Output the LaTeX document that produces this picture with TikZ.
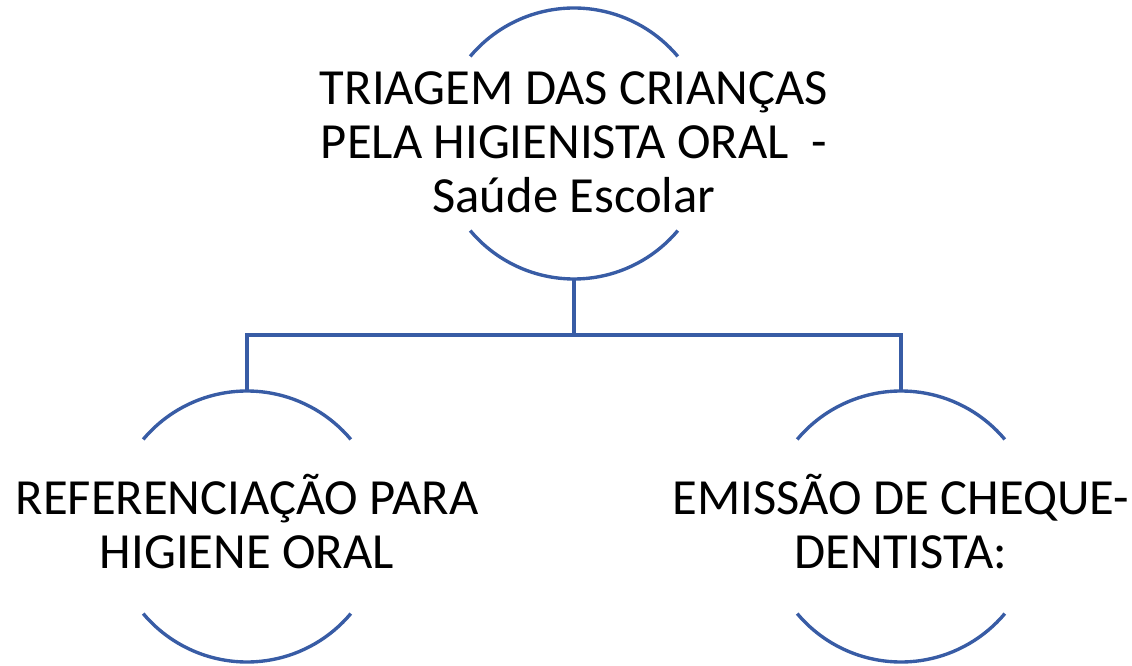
\documentclass[tikz,border=0pt]{standalone}
\usepackage{fontspec}
\setmainfont{Carlito}
\usetikzlibrary{positioning}
\definecolor{lineblue}{RGB}{56,92,165}

\begin{document}
\begin{tikzpicture}[
		bubble/.style={circle, minimum size=6.775cm, inner sep=0pt, outer sep=0pt, draw=none},
		words/.style={align=center, inner sep=0pt, font=\fontsize{36}{38.4}\selectfont},
		rim/.style={draw=lineblue, line width=2.4pt},
	]
		\useasboundingbox (0,0) rectangle (28.3,16.625);
		% The three circles (only their top and bottom parts are drawn)
		\node[bubble] (T) at (14.35,13.0375) {};
		\node[bubble] (L) at (6.175,3.4625) {};
		\node[bubble] (R) at (22.525,3.4625) {};
		\foreach \c in {T,L,R}{
			\draw[rim] (\c.140) arc (140:40:3.3875);
			\draw[rim] (\c.220) arc (220:320:3.3875);
		}
		
		% Labels inside the circles
		\node[words] (Ttext) at ([yshift=0.03cm]T) {TRIAGEM DAS CRIANÇAS\\PELA HIGIENISTA ORAL\ \ -\\Saúde Escolar};
		\node[words] (Ltext) at ([yshift=0.13cm]L) {REFERENCIAÇÃO PARA\\HIGIENE ORAL};
		\node[words] (Rtext) at ([yshift=0.13cm]R) {EMISSÃO DE CHEQUE-\\DENTISTA:};
		
		% Connectors from the top circle down to the two others
		\draw[rim] (T.south) -- ++(0,-1.4) -| (L.north);
		\draw[rim] (T.south) -- ++(0,-1.4) -| (R.north);
\end{tikzpicture}
\end{document}
